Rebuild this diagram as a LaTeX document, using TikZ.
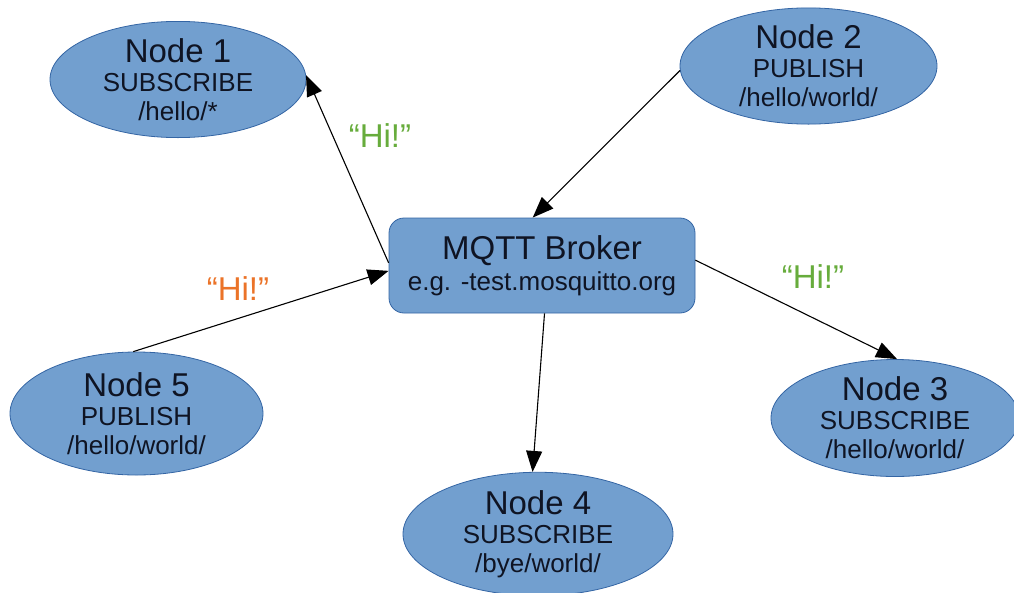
\documentclass[tikz,border=0pt]{standalone}
\usepackage{fontspec}
\setmainfont{Liberation Sans}
\usetikzlibrary{shapes.geometric,arrows.meta}
\definecolor{nodefill}{HTML}{729FCF}
\definecolor{nodeline}{HTML}{3465A4}
\definecolor{higreen}{RGB}{103,172,60}
\definecolor{hiorange}{RGB}{235,115,40}
\definecolor{nodetext}{RGB}{15,20,35}
\newcommand{\ntext}[3]{{\fontsize{33}{29}\selectfont #1}\\#2\\#3}
\tikzset{
  client/.style={ellipse, draw=nodeline, fill=nodefill, line width=0.8pt, inner sep=0pt,
    align=center, font=\fontsize{26}{29}\selectfont, text=nodetext},
  broker/.style={rectangle, rounded corners=15pt, draw=nodeline, fill=nodefill, line width=0.8pt,
    minimum width=306pt, minimum height=95pt, inner sep=0pt, align=center,
    font=\fontsize{26}{31}\selectfont, text=nodetext},
  msg/.style={-{Triangle[length=21pt,width=16pt]}, line width=1.1pt, black},
  hi/.style={font=\fontsize{33}{33}\selectfont, anchor=base},
}
\begin{document}
\begin{tikzpicture}[x=1pt,y=-1pt]
\useasboundingbox (0,0) rectangle (1014,592);
\node[client, minimum width=256pt, minimum height=115pt] (n1) at (178,79.5) {\ntext{Node 1}{SUBSCRIBE}{/hello/*}};
\node[client, minimum width=257pt, minimum height=114pt] (n2) at (808.5,66) {\ntext{Node 2}{PUBLISH}{/hello/world/}};
\node[client, minimum width=248pt, minimum height=117pt] (n3) at (895,418) {\ntext{Node 3}{SUBSCRIBE}{/hello/world/}};
\node[client, minimum width=270pt, minimum height=122pt] (n4) at (538,534) {\ntext{Node 4}{SUBSCRIBE}{/bye/world/}};
\node[client, minimum width=253pt, minimum height=123pt] (n5) at (136.5,413.5) {\ntext{Node 5}{PUBLISH}{/hello/world/}};
\node[broker] (b) at (542,265.5) {{\fontsize{33}{31}\selectfont MQTT Broker}\\e.g. -test.mosquitto.org};
\draw[msg] (b.179) -- (n1.2);
\draw[msg] (n2.182) -- (b.101.6);
\draw[msg] (n5.93) -- (b.182);
\draw[msg] (b.2.8) -- (n3.88);
\draw[msg] (b.273.6) -- (n4.95.7);
\node[hi, text=higreen] (h1) at (380,147) {“Hi!”};
\node[hi, text=hiorange] (h2) at (238,300) {“Hi!”};
\node[hi, text=higreen] (h3) at (813,288) {“Hi!”};
\end{tikzpicture}
\end{document}
